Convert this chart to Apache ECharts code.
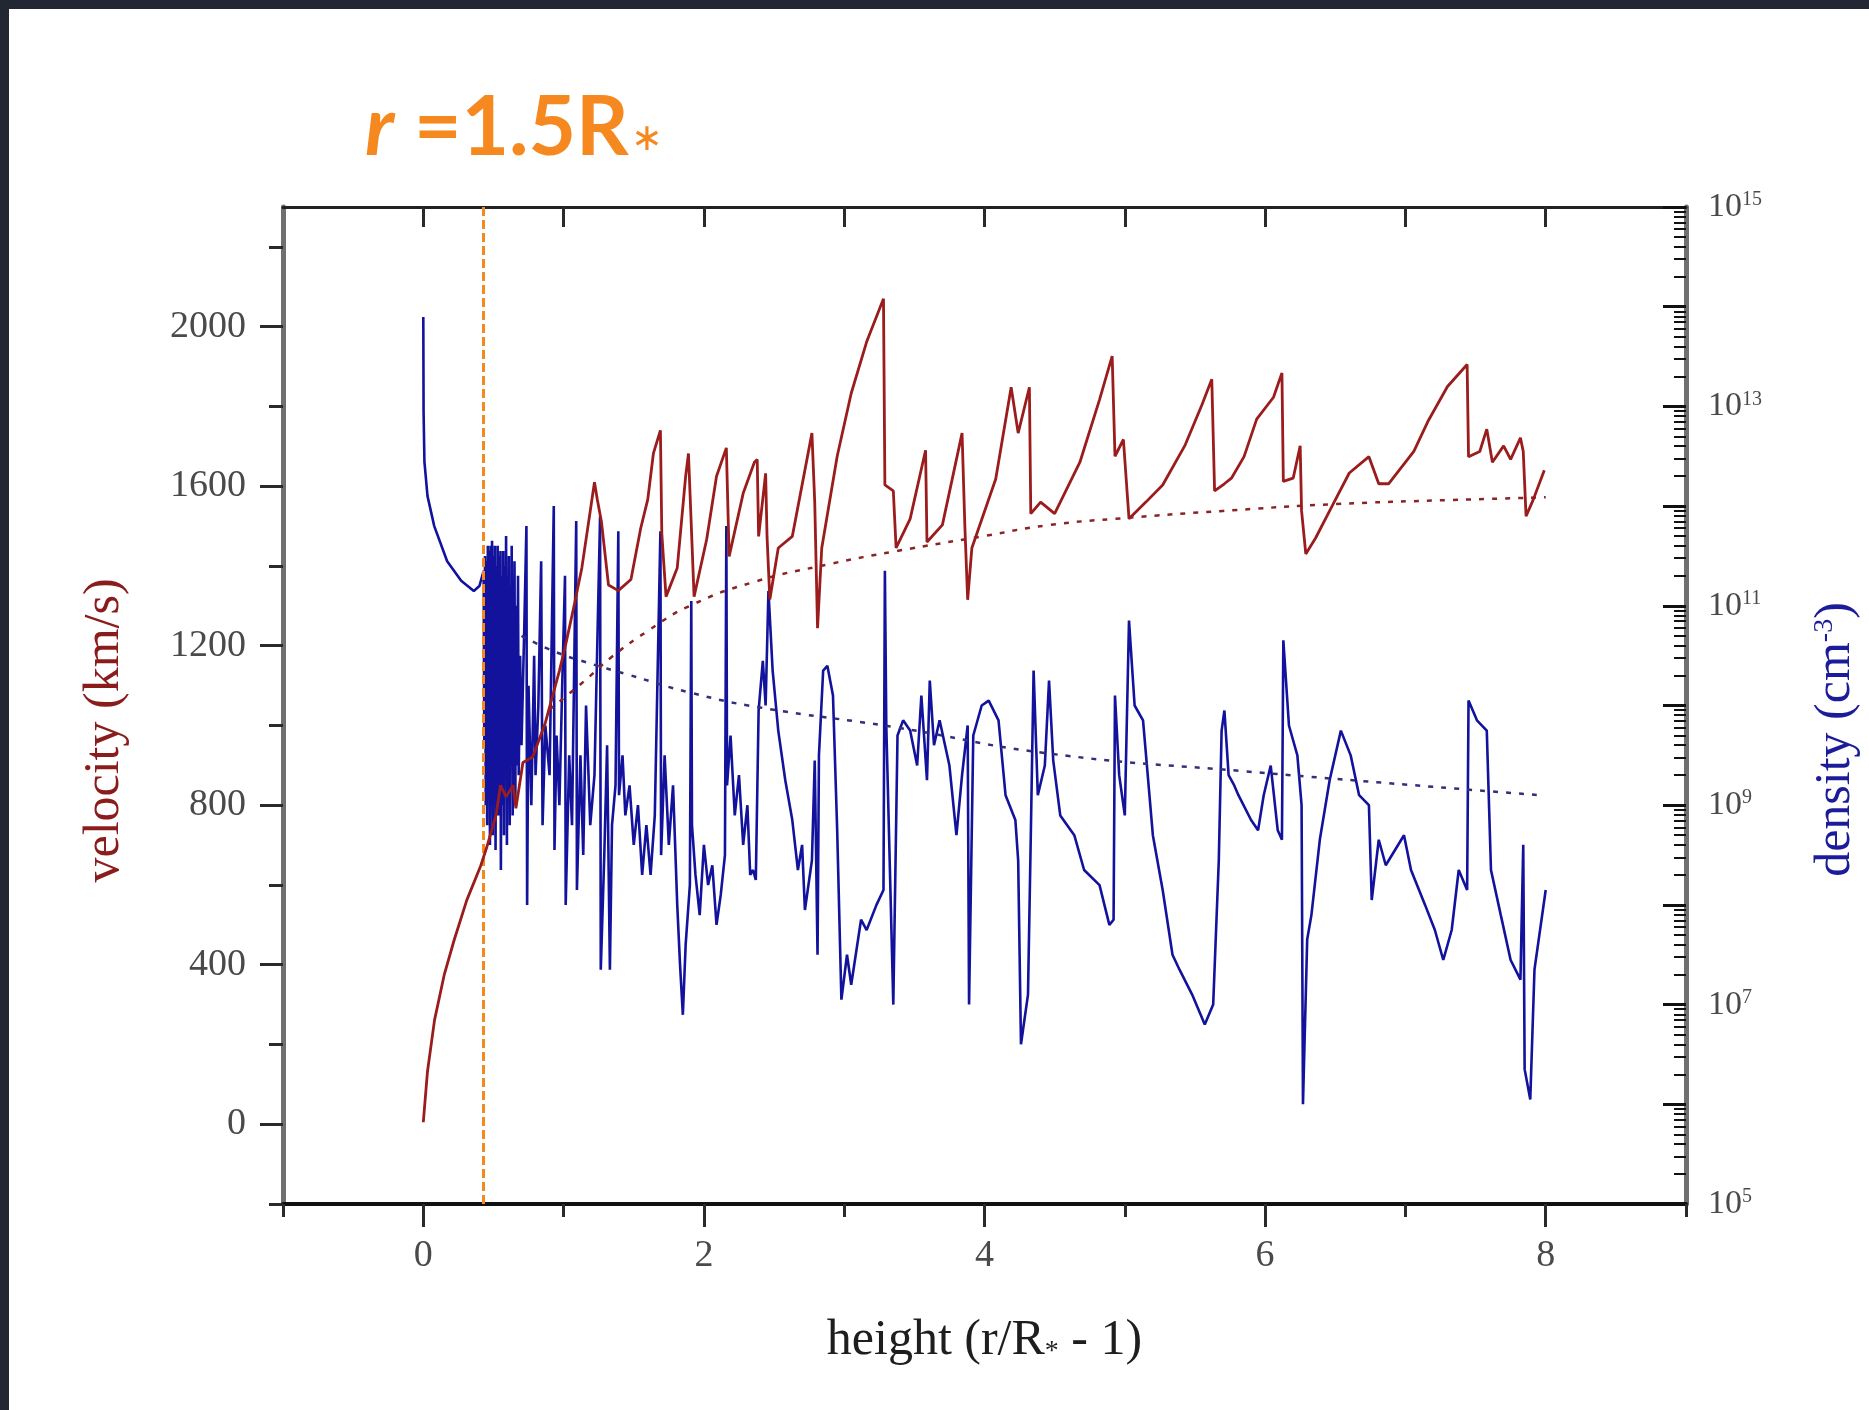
<!DOCTYPE html>
<html>
<head>
<meta charset="utf-8">
<title>wind velocity and density</title>
<script src="https://cdn.jsdelivr.net/npm/echarts@6/dist/echarts.min.js"></script>
<style>
html, body { margin: 0; padding: 0; background: #fff; }
#chart { width: 1869px; height: 1410px; }
</style>
</head>
<body>
<div id="chart"></div>
<script>
// height (r/R* - 1) ticks
const heightMajor = [0, 2, 4, 6, 8]
const heightMinor = [-1, 1, 3, 5, 7, 9]
const heightTop = [0, 1, 2, 3, 4, 5, 6, 7, 8]
// velocity ticks (km/s)
const velocityMajor = [0, 400, 800, 1200, 1600, 2000]
const velocityMinor = [-200, 200, 600, 1000, 1400, 1800, 2200]

// marker r = 1.5 R*
const markerHeight = 0.43

// velocity [height, km/s]
const velocityInner = [
  [0, 5], [0.03, 133], [0.08, 261], [0.15, 376], [0.22, 462], [0.31, 562], [0.41, 649], [0.45, 692],
  [0.52, 777], [0.55, 850], [0.59, 821], [0.64, 850], [0.66, 792], [0.71, 907], [0.78, 921], [0.87, 1007],
  [0.97, 1137], [1.01, 1195], [1.08, 1309], [1.13, 1395], [1.19, 1538], [1.22, 1610], [1.24, 1567],
  [1.27, 1510], [1.32, 1352], [1.39, 1338], [1.48, 1366], [1.55, 1495], [1.6, 1567], [1.64, 1682],
  [1.69, 1740], [1.7, 1481], [1.73, 1323], [1.81, 1395], [1.87, 1625], [1.89, 1682], [1.93, 1323],
  [2.02, 1467], [2.09, 1625], [2.16, 1696], [2.18, 1424], [2.28, 1582], [2.36, 1660], [2.38, 1667],
  [2.39, 1474], [2.44, 1632], [2.45, 1474], [2.47, 1316], [2.53, 1445], [2.63, 1474], [2.77, 1733],
  [2.79, 1560], [2.81, 1244], [2.84, 1445], [2.95, 1675], [3.05, 1833], [3.16, 1962], [3.28, 2070],
  [3.29, 1603], [3.35, 1588], [3.37, 1445], [3.47, 1518], [3.58, 1690], [3.59, 1460], [3.7, 1503],
  [3.84, 1733], [3.86, 1500], [3.88, 1315], [3.91, 1445]
]
const velocityOuter = [
  [4.08, 1618], [4.19, 1848], [4.24, 1733], [4.32, 1848], [4.33, 1531], [4.4, 1560], [4.5, 1531],
  [4.68, 1660], [4.82, 1817], [4.91, 1926], [4.93, 1675], [4.99, 1717], [5.03, 1518], [5.15, 1560],
  [5.27, 1603], [5.43, 1703], [5.55, 1804], [5.62, 1868], [5.64, 1588], [5.71, 1606], [5.76, 1620],
  [5.85, 1674], [5.94, 1768], [6.06, 1823], [6.12, 1884], [6.13, 1612], [6.2, 1620], [6.25, 1701],
  [6.26, 1538], [6.29, 1430], [6.36, 1470], [6.48, 1552], [6.6, 1633], [6.74, 1674], [6.81, 1606],
  [6.88, 1606], [7.06, 1687], [7.16, 1762], [7.3, 1850], [7.44, 1905], [7.45, 1674], [7.53, 1687],
  [7.58, 1743], [7.62, 1660], [7.7, 1701], [7.75, 1667], [7.82, 1721], [7.84, 1687], [7.86, 1525],
  [7.91, 1565], [7.99, 1640]
]
const velocityModel = [
  [0.9, 1040], [1.15, 1112], [1.34, 1171], [1.6, 1237], [1.9, 1300], [2.35, 1359], [2.9, 1405],
  [3.37, 1437], [4.0, 1475], [4.45, 1502], [5.0, 1520], [5.7, 1538], [6.5, 1555], [7.3, 1565], [8.0, 1572]
]

// density [height, cm^-3]
const densityInner = [
  [0, 7.9e13], [0.002, 8.9e12], [0.008, 2.8e12], [0.03, 1.26e12], [0.078, 6.3e11], [0.17, 2.8e11],
  [0.27, 1.78e11], [0.36, 1.41e11], [0.4, 1.58e11], [0.43, 2.24e11],
  [0.435, 4.0e9], [0.44, 3.16e11], [0.445, 1.0e9], [0.45, 2.8e11], [0.455, 6.3e8], [0.46, 4.0e11],
  [0.465, 1.58e9], [0.47, 3.55e11], [0.475, 4.0e8], [0.48, 4.0e11], [0.487, 1.0e9], [0.49, 4.5e11],
  [0.495, 5.0e8], [0.5, 3.16e11], [0.505, 2.0e9], [0.51, 4.0e11], [0.515, 3.55e8], [0.52, 2.5e11],
  [0.527, 1.26e9], [0.53, 4.0e11], [0.535, 7.9e8], [0.54, 3.16e11], [0.545, 3.16e9], [0.55, 3.55e11],
  [0.553, 2.24e8], [0.56, 2.0e11], [0.566, 1.0e9], [0.57, 3.55e11], [0.575, 5.0e8], [0.58, 2.5e11],
  [0.586, 2.5e9], [0.59, 5.0e11], [0.596, 4.0e8], [0.6, 2.0e11], [0.605, 1.58e9], [0.61, 3.16e11],
  [0.616, 6.3e8], [0.62, 1.58e11], [0.627, 3.16e9], [0.63, 4.0e11], [0.637, 7.9e8], [0.64, 1.26e11],
  [0.646, 4.0e9], [0.65, 2.8e11], [0.656, 1.0e9], [0.66, 1.0e11], [0.667, 2.5e9], [0.675, 2.0e11],
  [0.68, 2.0e9], [0.69, 3.16e10], [0.7, 4.0e9]
]
const densityMiddle = [
  [0.72, 6.3e10], [0.735, 6.3e11], [0.74, 1.0e8], [0.75, 1.58e10], [0.77, 1.0e9], [0.79, 3.16e10],
  [0.8, 2.0e9], [0.82, 1.0e10], [0.84, 2.8e11], [0.85, 6.3e8], [0.87, 6.3e9], [0.9, 2.0e9],
  [0.93, 1.0e12], [0.935, 3.55e8], [0.95, 5.0e9], [0.97, 1.0e9], [0.99, 1.58e10], [1.01, 2.0e11],
  [1.015, 1.0e8], [1.04, 3.16e9], [1.06, 6.3e8], [1.09, 7.1e11], [1.095, 1.41e8], [1.12, 3.16e9],
  [1.14, 3.16e8], [1.16, 1.0e10], [1.19, 6.3e8], [1.22, 2.0e9], [1.26, 7.9e11], [1.265, 2.24e7],
  [1.29, 3.16e8], [1.31, 4.0e9], [1.33, 2.24e7], [1.345, 6.3e8], [1.37, 1.58e9], [1.39, 5.6e11],
  [1.395, 1.26e9], [1.42, 3.16e9], [1.44, 7.9e8], [1.47, 1.58e9], [1.5, 4.0e8], [1.53, 1.0e9],
  [1.56, 2.0e8], [1.59, 6.3e8], [1.62, 2.0e8], [1.65, 7.9e8], [1.69, 5.6e11], [1.695, 3.16e8],
  [1.72, 3.16e9], [1.75, 4.0e8], [1.78, 1.58e9], [1.81, 1.0e8], [1.83, 2.5e7], [1.85, 7.9e6],
  [1.87, 4.0e7], [1.9, 1.58e8], [1.91, 1.12e11], [1.915, 6.3e8], [1.94, 2.0e8], [1.97, 7.9e7],
  [2.0, 4.0e8], [2.03, 1.58e8], [2.06, 2.5e8], [2.09, 6.3e7], [2.12, 1.26e8], [2.15, 3.16e8],
  [2.16, 6.3e11], [2.165, 1.58e9], [2.19, 5.0e9], [2.22, 7.9e8], [2.25, 2.0e9], [2.28, 4.0e8],
  [2.31, 1.0e9], [2.33, 2.0e8], [2.35, 2.24e8]
]
const densityOuter = [
  [2.37, 1.78e8], [2.39, 8.9e9], [2.42, 2.8e10], [2.44, 1.0e10], [2.46, 1.41e11], [2.49, 2.24e10],
  [2.53, 5.6e9], [2.58, 1.78e9], [2.63, 7.1e8], [2.67, 2.24e8], [2.7, 4.0e8], [2.72, 8.9e7],
  [2.77, 2.8e8], [2.79, 2.8e9], [2.81, 3.16e7], [2.82, 3.16e9], [2.85, 2.24e10], [2.88, 2.5e10],
  [2.92, 1.26e10], [2.95, 5.6e8], [2.98, 1.12e7], [3.02, 3.16e7], [3.05, 1.58e7], [3.12, 7.1e7],
  [3.16, 5.6e7], [3.23, 1.0e8], [3.28, 1.41e8], [3.29, 2.24e11], [3.3, 6.3e9], [3.35, 1.0e7],
  [3.38, 5.0e9], [3.42, 7.1e9], [3.47, 5.6e9], [3.52, 2.5e9], [3.55, 1.26e10], [3.59, 1.78e9],
  [3.61, 1.78e10], [3.64, 4.0e9], [3.68, 7.1e9], [3.75, 2.5e9], [3.8, 5.0e8], [3.84, 2.0e9],
  [3.88, 6.3e9], [3.89, 1.0e7], [3.92, 5.0e9], [3.98, 1.0e10], [4.03, 1.12e10], [4.1, 7.1e9],
  [4.15, 1.26e9], [4.22, 7.1e8], [4.24, 2.8e8], [4.26, 4.0e6], [4.31, 1.26e7], [4.33, 5.0e8],
  [4.35, 2.24e10], [4.38, 1.26e9], [4.43, 2.5e9], [4.46, 1.78e10], [4.49, 2.8e9], [4.54, 7.9e8],
  [4.64, 5.0e8], [4.71, 2.24e8], [4.82, 1.58e8], [4.89, 6.3e7], [4.92, 7.1e7], [4.93, 1.26e10],
  [4.96, 2.0e9], [5.0, 7.9e8], [5.03, 7.1e10], [5.07, 1.0e10], [5.13, 7.1e9], [5.2, 5.0e8],
  [5.27, 1.41e8], [5.34, 3.16e7], [5.39, 2.24e7], [5.48, 1.26e7], [5.57, 6.3e6], [5.63, 1.0e7],
  [5.67, 2.8e8], [5.69, 5.6e9], [5.71, 8.9e9], [5.74, 2.0e9], [5.78, 1.58e9], [5.81, 1.26e9],
  [5.9, 7.1e8], [5.95, 5.6e8], [5.99, 1.26e9], [6.04, 2.5e9], [6.09, 5.6e8], [6.12, 4.5e8],
  [6.13, 4.5e10], [6.17, 6.3e9], [6.23, 3.16e9], [6.26, 1.0e9], [6.27, 1.0e6], [6.3, 4.5e7],
  [6.33, 7.9e7], [6.39, 4.5e8], [6.46, 1.78e9], [6.54, 5.6e9], [6.61, 3.16e9], [6.67, 1.26e9],
  [6.74, 1.0e9], [6.76, 1.12e8], [6.81, 4.5e8], [6.86, 2.5e8], [6.99, 5.0e8], [7.04, 2.24e8],
  [7.14, 1.0e8], [7.21, 5.6e7], [7.27, 2.8e7], [7.33, 5.6e7], [7.38, 2.24e8], [7.44, 1.41e8],
  [7.45, 1.12e10], [7.51, 7.1e9], [7.58, 5.6e9], [7.61, 2.24e8], [7.68, 7.9e7], [7.75, 2.8e7],
  [7.82, 1.78e7], [7.84, 4.0e8], [7.85, 2.24e6], [7.89, 1.12e6], [7.92, 2.24e7], [8.0, 1.41e8]
]
const densityModel = [
  [0.7, 5.0e10], [0.92, 3.55e10], [1.17, 2.69e10], [1.46, 2.04e10], [1.9, 1.35e10], [2.4, 9.55e9],
  [3.37, 6.03e9], [4.45, 3.31e9], [5.85, 2.19e9], [7.96, 1.26e9]
]

const serif = 'Liberation Serif'
const tickColor = '#2a2a2a'
const labelColor = '#4a4a4a'

// log minor tick positions (2..9 x 10^k) on the density scale
const densityMinorTicks = []
for (let k = 5; k < 15; k++) {
  for (let m = 2; m <= 9; m++) densityMinorTicks.push(k + Math.log10(m))
}

const chart = echarts.init(document.getElementById('chart'))

const option = {
  backgroundColor: '#fff',
  animation: false,
  graphic: [
    { type: 'rect', shape: { x: 0, y: 0, width: 1869, height: 9 }, style: { fill: '#232733' } },
    { type: 'rect', shape: { x: 0, y: 0, width: 9, height: 1410 }, style: { fill: '#232733' } },
    {
      type: 'text',
      left: 365,
      top: 88,
      style: {
        text: '{i|r}{n| =1.5R}{s|∗}',
        rich: {
          i: { fontFamily: 'Lato', fontStyle: 'italic', fontWeight: 'bold', fontSize: 82, fill: '#f5881e' },
          n: { fontFamily: 'Lato', fontWeight: 'bold', fontSize: 82, fill: '#f5881e' },
          s: { fontFamily: 'Lato', fontSize: 38, fill: '#f5881e', verticalAlign: 'middle', padding: [18, 0, 0, 2] }
        }
      }
    }
  ],
  grid: { left: 283, right: 159, top: 207, bottom: 206 },
  xAxis: [
    {
      type: 'value', position: 'bottom', min: -1, max: 9, interval: 1,
      name: '{a|height (r/R}{s|*}{a| - 1)}',
      nameLocation: 'middle',
      nameGap: 112,
      nameTextStyle: {
        rich: {
          a: { fontFamily: serif, fontSize: 50, color: '#1e1e1e' },
          s: { fontFamily: serif, fontSize: 28, color: '#1e1e1e', verticalAlign: 'bottom' }
        }
      },
      axisLine: { onZero: false, lineStyle: { color: '#111', width: 4 } },
      axisTick: { customValues: heightMajor, length: 23, lineStyle: { color: tickColor, width: 3 } },
      axisLabel: { customValues: heightMajor, margin: 33, fontFamily: serif, fontSize: 38, color: labelColor },
      splitLine: { show: false }
    },
    {
      type: 'value', position: 'bottom', min: -1, max: 9, interval: 1,
      axisLine: { show: false, onZero: false },
      axisTick: { customValues: heightMinor, length: 13, lineStyle: { color: tickColor, width: 3 } },
      axisLabel: { show: false },
      splitLine: { show: false }
    },
    {
      type: 'value', position: 'top', min: -1, max: 9, interval: 1,
      axisLine: { onZero: false, lineStyle: { color: '#222', width: 3 } },
      axisTick: { customValues: heightTop, inside: true, length: 20, lineStyle: { color: tickColor, width: 3 } },
      axisLabel: { show: false },
      splitLine: { show: false }
    }
  ],
  yAxis: [
    {
      type: 'value', position: 'left', min: -200, max: 2300, interval: 100,
      name: 'velocity (km/s)',
      nameLocation: 'middle',
      nameRotate: 90,
      nameGap: 153,
      nameTextStyle: { color: '#8b1c1c', fontFamily: serif, fontSize: 50, padding: [0, 50, 0, 0] },
      axisLine: { onZero: false, lineStyle: { color: '#707070', width: 5 } },
      axisTick: { customValues: velocityMajor, length: 23, lineStyle: { color: tickColor, width: 3 } },
      axisLabel: {
        customValues: velocityMajor, margin: 37, fontFamily: serif, fontSize: 38, color: labelColor,
        formatter: (val) => String(val)
      },
      splitLine: { show: false }
    },
    {
      type: 'value', position: 'left', min: -200, max: 2300, interval: 100,
      axisLine: { show: false, onZero: false },
      axisTick: { customValues: velocityMinor, length: 14, lineStyle: { color: tickColor, width: 3 } },
      axisLabel: { show: false },
      splitLine: { show: false }
    },
    {
      type: 'log', logBase: 10, position: 'right', min: 1e5, max: 1e15, splitNumber: 10,
      name: '{a|density (cm}{s|-3}{a|)}',
      nameLocation: 'middle',
      nameRotate: 90,
      nameGap: 125,
      nameTextStyle: {
        padding: [0, 68, 0, 0],
        rich: {
          a: { fontFamily: serif, fontSize: 50, color: '#1c1c9a' },
          s: { fontFamily: serif, fontSize: 28, color: '#1c1c9a', verticalAlign: 'top' }
        }
      },
      axisLine: { onZero: false, lineStyle: { color: '#707070', width: 5 } },
      axisTick: { inside: true, length: 23, lineStyle: { color: '#111', width: 3 } },
      axisLabel: {
        margin: 22,
        formatter: (val) => {
          const e = Math.round(Math.log10(val))
          return e % 2 === 1 ? '{b|10}{s|' + e + '}' : ''
        },
        rich: {
          b: { fontFamily: serif, fontSize: 34, color: labelColor },
          s: { fontFamily: serif, fontSize: 20, color: labelColor, verticalAlign: 'top' }
        }
      },
      splitLine: { show: false }
    },
    {
      type: 'value', position: 'right', min: 5, max: 15, interval: 1,
      axisLine: { show: false, onZero: false },
      axisTick: { customValues: densityMinorTicks, inside: true, length: 12, lineStyle: { color: '#111', width: 2 } },
      axisLabel: { show: false },
      splitLine: { show: false }
    }
  ],
  series: [
    {
      name: 'density',
      type: 'line',
      xAxisIndex: 0,
      yAxisIndex: 2,
      data: densityInner.concat(densityMiddle, densityOuter),
      symbol: 'none',
      sampling: false,
      lineStyle: { color: '#12129c', width: 2.6 },
      z: 3
    },
    {
      name: 'density model',
      type: 'line',
      xAxisIndex: 0,
      yAxisIndex: 2,
      data: densityModel,
      symbol: 'none',
      smooth: true,
      lineStyle: { color: '#33307a', width: 2.5, type: [5, 8] },
      z: 4
    },
    {
      name: 'velocity',
      type: 'line',
      xAxisIndex: 0,
      yAxisIndex: 0,
      data: velocityInner.concat(velocityOuter),
      symbol: 'none',
      lineStyle: { color: '#9a1c1c', width: 2.8 },
      z: 5,
      markLine: {
        silent: true,
        symbol: ['none', 'none'],
        label: { show: false },
        lineStyle: { color: '#f5881e', width: 3, type: [9, 4] },
        data: [{ xAxis: markerHeight }]
      }
    },
    {
      name: 'velocity model',
      type: 'line',
      xAxisIndex: 0,
      yAxisIndex: 0,
      data: velocityModel,
      symbol: 'none',
      smooth: true,
      lineStyle: { color: '#8a2424', width: 2.5, type: [5, 8] },
      z: 4
    }
  ]
}

chart.setOption(option)
</script>
</body>
</html>
